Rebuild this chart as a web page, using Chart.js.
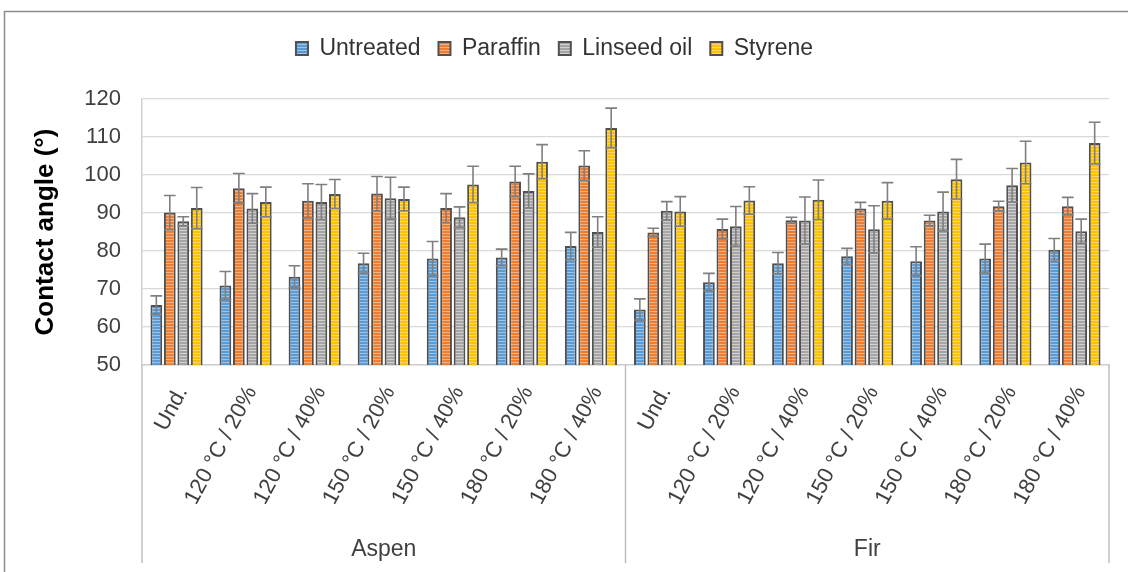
<!DOCTYPE html>
<html>
<head>
<meta charset="utf-8">
<script src="https://cdn.jsdelivr.net/npm/chart.js@4.4.1/dist/chart.umd.min.js"></script>
<style>
  html, body { margin: 0; padding: 0; background: #fff; }
</style>
</head>
<body>
<canvas id="chart" width="1128" height="572"></canvas>
<script>
const categories = [
  'Und.', '120 °C / 20%', '120 °C / 40%', '150 °C / 20%', '150 °C / 40%', '180 °C / 20%', '180 °C / 40%',
  'Und.', '120 °C / 20%', '120 °C / 40%', '150 °C / 20%', '150 °C / 40%', '180 °C / 20%', '180 °C / 40%'
];
const groups = ['Aspen', 'Fir'];

const untreated    = [65.8, 70.9, 73.2, 76.8, 78.0, 78.3, 81.3, 64.6, 71.8, 76.8, 78.6, 77.3, 78.0, 80.3];
const untreatedErr = [2.4, 3.7, 2.9, 2.6, 4.5, 2.2, 3.6, 2.8, 2.3, 2.8, 2.1, 3.8, 3.8, 3.0];
const paraffin     = [90.1, 96.5, 93.2, 95.1, 91.3, 98.3, 102.5, 84.9, 85.8, 88.1, 91.2, 88.0, 91.8, 91.8];
const paraffinErr  = [4.5, 3.9, 4.5, 4.5, 3.8, 4.0, 3.9, 1.1, 2.6, 0.8, 1.6, 1.4, 1.3, 2.3];
const linseed      = [87.8, 91.2, 92.9, 93.9, 88.9, 95.8, 85.0, 90.6, 86.5, 88.0, 85.7, 90.4, 97.3, 85.2];
const linseedErr   = [1.2, 3.9, 4.6, 5.5, 2.7, 4.5, 4.0, 2.4, 5.2, 6.2, 6.2, 5.1, 4.4, 3.2];
const styrene      = [91.3, 92.9, 95.0, 93.7, 97.5, 103.5, 112.4, 90.4, 93.3, 93.5, 93.2, 98.9, 103.3, 108.4];
const styreneErr   = [5.4, 3.9, 3.8, 3.1, 4.8, 4.5, 5.2, 3.9, 3.6, 5.2, 4.8, 5.2, 5.6, 5.5];

const yTicks = [50, 60, 70, 80, 90, 100, 110, 120];

const canvas = document.getElementById('chart');
const ctx = canvas.getContext('2d');

// horizontal stripe fill like the Excel pattern
function stripes(base, light) {
  const c = document.createElement('canvas');
  c.width = 4; c.height = 3;
  const g = c.getContext('2d');
  g.fillStyle = base;
  g.fillRect(0, 0, 4, 3);
  g.fillStyle = light;
  g.fillRect(0, 2, 4, 1);
  return ctx.createPattern(c, 'repeat');
}

const frame = {
  id: 'frame',
  beforeDraw(chart) {
    const c = chart.ctx;
    c.save();
    c.strokeStyle = '#8C8C8C';
    c.lineWidth = 1.5;
    c.strokeRect(4.5, 11.5, 1140, 600);
    c.restore();
  }
};

// extra room between the legend and the plot
const legendGap = {
  id: 'legendGap',
  afterInit(chart) {
    const legend = chart.legend;
    const fit = legend.fit.bind(legend);
    legend.fit = () => { fit(); legend.height += 29; };
  }
};

const errorBars = {
  id: 'errorBars',
  afterDatasetsDraw(chart) {
    const c = chart.ctx;
    const y = chart.scales.y;
    c.save();
    c.strokeStyle = '#7F7F7F';
    c.lineWidth = 1.6;
    chart.data.datasets.forEach((ds, i) => {
      const meta = chart.getDatasetMeta(i);
      if (meta.hidden) return;
      meta.data.forEach((bar, j) => {
        const v = ds.data[j], e = ds.errors[j];
        const top = y.getPixelForValue(v + e);
        const bot = y.getPixelForValue(v - e);
        const hw = bar.width / 2;
        c.beginPath();
        c.moveTo(bar.x, top); c.lineTo(bar.x, bot);
        c.moveTo(bar.x - hw, top); c.lineTo(bar.x + hw, top);
        c.moveTo(bar.x - hw, bot); c.lineTo(bar.x + hw, bot);
        c.stroke();
      });
    });
    c.restore();
  }
};

// second category level: Aspen / Fir with separators
const groupAxis = {
  id: 'groupAxis',
  afterDraw(chart) {
    const c = chart.ctx;
    const x = chart.scales.x;
    const per = categories.length / groups.length;
    c.save();
    c.strokeStyle = '#BFBFBF';
    c.lineWidth = 1.5;
    c.fillStyle = '#404040';
    c.font = '23px "Liberation Sans", Arial, sans-serif';
    c.textAlign = 'center';
    c.textBaseline = 'middle';
    for (let g = 0; g <= groups.length; g++) {
      let bx;
      if (g === 0) bx = x.left;
      else if (g === groups.length) bx = x.right;
      else bx = (x.getPixelForValue(g * per - 1) + x.getPixelForValue(g * per)) / 2;
      c.beginPath();
      c.moveTo(bx, x.top);
      c.lineTo(bx, x.bottom - 9);
      c.stroke();
    }
    groups.forEach((name, g) => {
      const cx = (x.getPixelForValue(g * per) + x.getPixelForValue(g * per + per - 1)) / 2;
      c.fillText(name, cx, x.bottom - 22);
    });
    c.restore();
  }
};

const font = '"Liberation Sans", Arial, sans-serif';

new Chart(ctx, {
  type: 'bar',
  data: {
    labels: categories,
    datasets: [
      { label: 'Untreated', data: untreated, errors: untreatedErr,
        backgroundColor: stripes('#5B9BD5', '#9DC3E6') },
      { label: 'Paraffin', data: paraffin, errors: paraffinErr,
        backgroundColor: stripes('#ED7D31', '#F4B183') },
      { label: 'Linseed oil', data: linseed, errors: linseedErr,
        backgroundColor: stripes('#A5A5A5', '#D0D0D0') },
      { label: 'Styrene', data: styrene, errors: styreneErr,
        backgroundColor: stripes('#FFC000', '#FFD966') }
    ].map(d => Object.assign(d, {
      borderColor: '#505050',
      borderWidth: 2,
      categoryPercentage: 0.78,
      barPercentage: 0.87
    }))
  },
  options: {
    responsive: false,
    animation: false,
    layout: { padding: { top: 19, left: 0, right: 19, bottom: 0 } },
    plugins: {
      legend: {
        position: 'top',
        labels: {
          boxWidth: 12,
          boxHeight: 13,
          padding: 18,
          color: '#333',
          font: { family: font, size: 23 }
        }
      },
      tooltip: { enabled: false }
    },
    scales: {
      x: {
        grid: { display: false, drawTicks: false },
        border: { display: true, color: '#D0D0D0', width: 1.5 },
        ticks: {
          autoSkip: false,
          minRotation: 62,
          maxRotation: 62,
          padding: 17,
          labelOffset: 6,
          color: '#404040',
          font: { family: font, size: 22 }
        },
        afterFit(scale) {
          scale.height = 207;
          scale.paddingLeft = 0;
          scale.paddingRight = 0;
        }
      },
      y: {
        min: 50,
        max: 120,
        afterBuildTicks(scale) {
          scale.ticks = yTicks.map(v => ({ value: v }));
        },
        grid: { color: '#D9D9D9', lineWidth: 1.3, drawTicks: false },
        border: { display: true, color: '#D0D0D0', width: 1.5 },
        ticks: {
          padding: 21,
          color: '#404040',
          font: { family: font, size: 22 }
        },
        title: {
          display: true,
          text: 'Contact angle (°)',
          color: '#000',
          padding: { top: 30, bottom: 0 },
          font: { family: font, size: 26, weight: 'bold' }
        },
        afterFit(scale) {
          scale.width = 142;
        }
      }
    }
  },
  plugins: [frame, legendGap, errorBars, groupAxis]
});
</script>
</body>
</html>
